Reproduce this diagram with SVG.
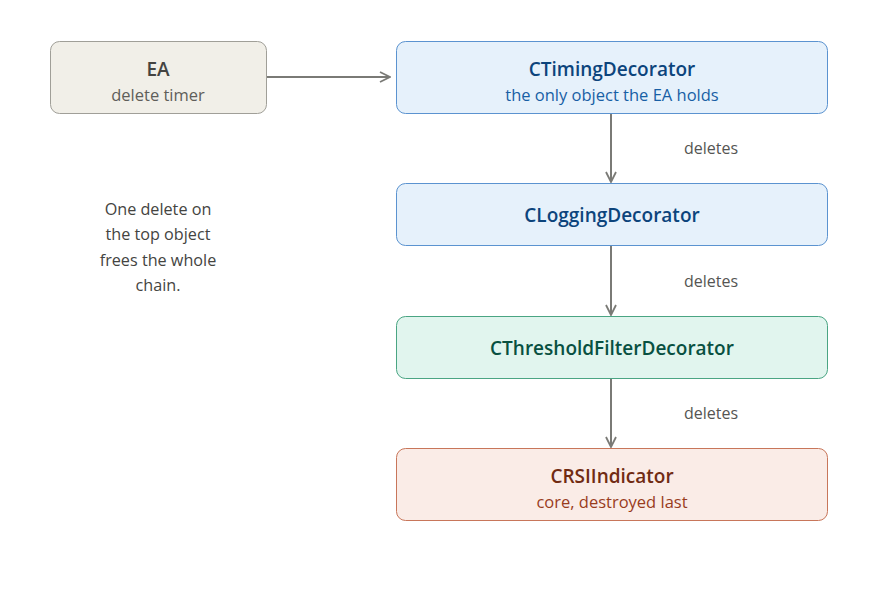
<svg xmlns="http://www.w3.org/2000/svg" width="882" height="589" viewBox="0 0 882 589">
<style>
text{font-family:"Open Sans","Noto Sans",sans-serif;text-anchor:middle}
.t{font-size:19px;font-weight:600}
.s{font-size:16.5px}
.n{font-size:16.2px;fill:#444441}
.lbl{font-size:16px;fill:#555553}
.conn{stroke:#7a7a76;stroke-width:2;fill:none}
</style>
<defs>
<marker id="ah" viewBox="0 0 12 12" refX="11" refY="6" markerWidth="12" markerHeight="12" markerUnits="userSpaceOnUse" orient="auto">
<path d="M1,1 L11,6 L1,11" fill="none" stroke="#7a7a76" stroke-width="1.8"/>
</marker>
</defs>
<rect width="882" height="589" fill="#fff"/>
<g id="connectors">
<line class="conn" x1="266" y1="77" x2="390" y2="77" marker-end="url(#ah)"/>
<line class="conn" x1="611" y1="113" x2="611" y2="182" marker-end="url(#ah)"/>
<line class="conn" x1="611" y1="246" x2="611" y2="315" marker-end="url(#ah)"/>
<line class="conn" x1="611" y1="378" x2="611" y2="447" marker-end="url(#ah)"/>
<text class="lbl" x="711" y="154">deletes</text>
<text class="lbl" x="711" y="287">deletes</text>
<text class="lbl" x="711" y="419">deletes</text>
</g>
<g id="ea">
<rect x="50.5" y="41.5" width="216" height="72" rx="9" fill="#f1efe8" stroke="#a09f98"/>
<text class="t" x="158" y="76" fill="#444441">EA</text>
<text class="s" x="158" y="101" fill="#5f5e5a">delete timer</text>
</g>
<g id="timing">
<rect x="396.5" y="41.5" width="431" height="72" rx="9" fill="#e6f1fb" stroke="#5b93d0"/>
<text class="t" x="612" y="76" fill="#0c447c">CTimingDecorator</text>
<text class="s" x="612" y="101" fill="#185fa5">the only object the EA holds</text>
</g>
<g id="logging">
<rect x="396.5" y="183.5" width="431" height="62" rx="9" fill="#e6f1fb" stroke="#5b93d0"/>
<text class="t" x="612" y="222" fill="#0c447c">CLoggingDecorator</text>
</g>
<g id="threshold">
<rect x="396.5" y="316.5" width="431" height="62" rx="9" fill="#e1f5ee" stroke="#4aa583"/>
<text class="t" x="612" y="355" fill="#085041">CThresholdFilterDecorator</text>
</g>
<g id="rsi">
<rect x="396.5" y="448.5" width="431" height="72" rx="9" fill="#faece7" stroke="#c8765a"/>
<text class="t" x="612" y="483" fill="#712b13">CRSIIndicator</text>
<text class="s" x="612" y="508" fill="#993c1d">core, destroyed last</text>
</g>
<g id="note">
<text class="n" x="158" y="215">One delete on</text>
<text class="n" x="158" y="240">the top object</text>
<text class="n" x="158" y="266">frees the whole</text>
<text class="n" x="158" y="291">chain.</text>
</g>
</svg>
